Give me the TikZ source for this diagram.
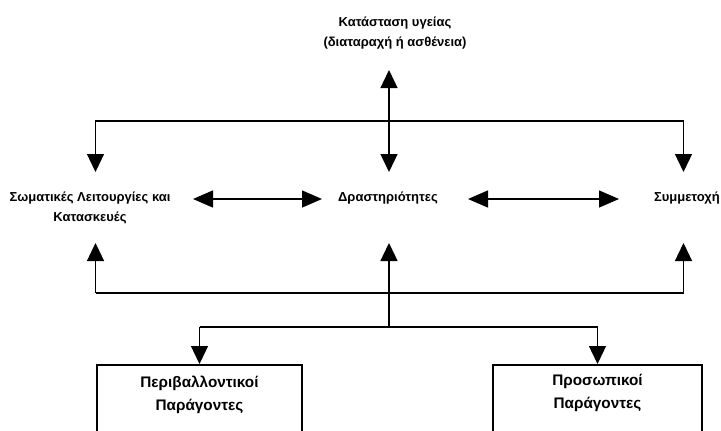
\documentclass[tikz,border=0pt]{standalone}
\usepackage{fontspec}
\setmainfont{Liberation Sans}
\usetikzlibrary{arrows.meta, positioning, calc}
\tikzset{
  flowtext/.style={
    font=\bfseries\fontsize{13}{20}\selectfont, align=center, inner sep=0pt
  },
  boxtext/.style={flowtext, font=\bfseries\fontsize{15.3}{23}\selectfont},
  factorbox/.style={rectangle, draw=black, line width=2pt, anchor=north, minimum height=120pt},
  link/.style={line width=1.3pt},
  arrow/.style={link, -{Triangle[length=18pt, width=17pt]}},
  twoway/.style={link, {Triangle[length=20pt, width=17pt]}-{Triangle[length=20pt, width=17pt]}}
}

\begin{document}
\begin{tikzpicture}[x=1pt, y=-1pt]
    \useasboundingbox (0,0) rectangle (721,431);
    \clip (0,0) rectangle (721,431);
    
    % Text nodes
    \node[flowtext] (health) at (395,33) {Κατάσταση υγείας\\(διαταραχή ή ασθένεια)};
    \node[flowtext] (body) at (90,207.5) {Σωματικές Λειτουργίες και\\Κατασκευές};
    \node[flowtext] (act) at (388,198) {Δραστηριότητες};
    \node[flowtext, anchor=east] (part) at (720,198) {Συμμετοχή};
    
    % Boxes
    \node[factorbox, minimum width=205pt] (env) at (199.5,364) {};
    \node[boxtext, below=12pt of env.north] (envtext) {Περιβαλλοντικοί\\Παράγοντες};
    \node[factorbox, minimum width=209pt] (pers) at (597.5,364) {};
    \node[boxtext, below=10pt of pers.north] (perstext) {Προσωπικοί\\Παράγοντες};
    
    % Junctions and arrow ends
    \coordinate (tl) at (95.5,121);
    \coordinate (tm) at (389,121);
    \coordinate (tr) at (683.5,121);
    \coordinate (bl) at (95.5,293);
    \coordinate (bm) at (389,293);
    \coordinate (br) at (683.5,293);
    \coordinate (sm) at (389,327);
    \coordinate (sl) at (199.5,327);
    \coordinate (sr) at (597.5,327);
    \coordinate (healthin) at (389,70);
    \coordinate (bodyin) at (95.5,172);
    \coordinate (actin) at (389,172);
    \coordinate (partin) at (683.5,172);
    \coordinate (bodyout) at (95.5,243);
    \coordinate (actout) at (389,243);
    \coordinate (partout) at (683.5,243);
    \coordinate (lefta) at (193,199);
    \coordinate (leftb) at (322,199);
    \coordinate (righta) at (468,199);
    \coordinate (rightb) at (619,199);
    
    % Upper bus
    \draw[link] (bodyin) ++(0,-18) -- (tl) -- (tr) -- ++(0,18);
    \draw[arrow] (tl) -- (bodyin);
    \draw[arrow] (tr) -- (partin);
    \draw[arrow] (tm) -- (healthin);
    \draw[arrow] (tm) -- (actin);
    
    % Middle row
    \draw[twoway] (lefta) -- (leftb);
    \draw[twoway] (righta) -- (rightb);
    
    % Lower bus
    \draw[link] (tl |- bl) -- (br);
    \draw[arrow] (bl) -- (bodyout);
    \draw[arrow] (bm) -- (actout);
    \draw[arrow] (br) -- (partout);
    \draw[link] (bm) -- (sm);
    \draw[link] (sl) -- (sr);
    \draw[arrow] (sl) -- (env.north);
    \draw[arrow] (sr) -- (pers.north);
    
\end{tikzpicture}
\end{document}
